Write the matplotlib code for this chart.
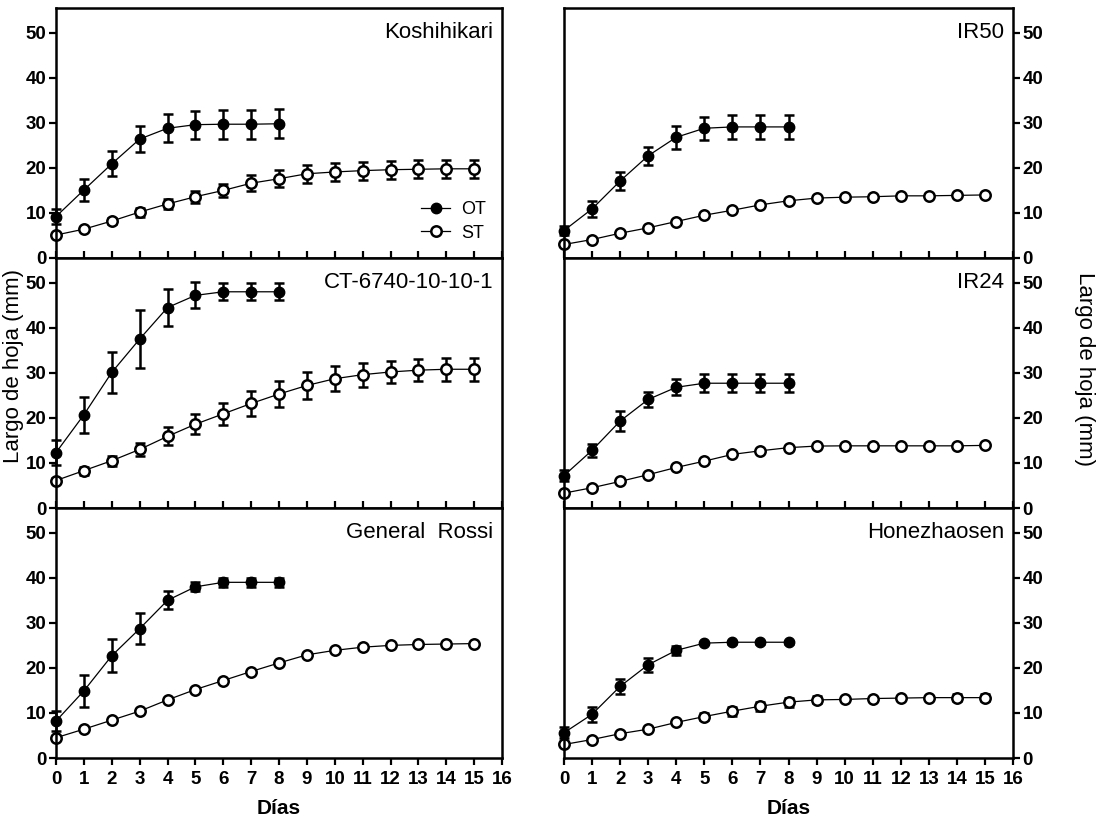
import numpy as np
import matplotlib
matplotlib.use('Agg')
import matplotlib.pyplot as plt
from matplotlib.lines import Line2D

plt.rcParams['font.family'] = ['Liberation Sans', 'DejaVu Sans']

dias_ot = [0, 1, 2, 3, 4, 5, 6, 7, 8]
dias_st = [0, 1, 2, 3, 4, 5, 6, 7, 8, 9, 10, 11, 12, 13, 14, 15]

# Koshihikari
kos_ot = [9.2, 15.1, 20.9, 26.4, 28.8, 29.6, 29.7, 29.7, 29.8]
kos_ot_err = [1.7, 2.4, 2.8, 2.9, 3.1, 3.1, 3.2, 3.2, 3.2]
kos_st = [5.1, 6.4, 8.2, 10.2, 12.0, 13.6, 15.0, 16.6, 17.6, 18.7, 19.1, 19.4, 19.6, 19.7, 19.8, 19.8]
kos_st_err = [0.5, 0.5, 0.6, 1.0, 1.2, 1.3, 1.5, 1.8, 1.9, 2.0, 2.0, 2.0, 2.0, 2.0, 2.0, 2.0]

# IR50
ir50_ot = [6.1, 10.9, 17.1, 22.7, 26.8, 28.8, 29.1, 29.1, 29.1]
ir50_ot_err = [1.0, 1.7, 2.0, 2.0, 2.5, 2.6, 2.6, 2.6, 2.6]
ir50_st = [3.0, 4.1, 5.5, 6.7, 8.1, 9.5, 10.6, 11.8, 12.7, 13.3, 13.5, 13.6, 13.8, 13.8, 13.9, 14.0]
ir50_st_err = [0.3] * 16

# CT-6740-10-10-1
ct_ot = [12.3, 20.7, 30.1, 37.5, 44.5, 47.2, 48.0, 48.0, 48.0]
ct_ot_err = [2.8, 4.0, 4.6, 6.4, 4.2, 2.9, 1.9, 1.9, 1.9]
ct_st = [6.1, 8.3, 10.5, 13.0, 15.9, 18.6, 20.9, 23.2, 25.3, 27.2, 28.7, 29.6, 30.2, 30.6, 30.8, 30.8]
ct_st_err = [0.5, 0.9, 1.1, 1.5, 2.0, 2.2, 2.4, 2.8, 2.9, 2.9, 2.8, 2.7, 2.5, 2.5, 2.5, 2.5]

# IR24
ir24_ot = [7.2, 12.8, 19.3, 24.1, 26.8, 27.7, 27.7, 27.7, 27.7]
ir24_ot_err = [1.2, 1.5, 2.3, 1.6, 1.8, 2.0, 2.0, 2.0, 2.0]
ir24_st = [3.3, 4.5, 5.9, 7.4, 9.0, 10.4, 11.9, 12.7, 13.4, 13.75, 13.8, 13.8, 13.8, 13.8, 13.8, 13.9]
ir24_st_err = [0.3] * 16

# General Rossi
gr_ot = [8.2, 14.9, 22.7, 28.7, 35.0, 38.0, 39.0, 39.0, 39.0]
gr_ot_err = [2.3, 3.6, 3.7, 3.4, 2.0, 1.0, 1.0, 1.0, 1.0]
gr_st = [4.5, 6.4, 8.4, 10.4, 12.9, 15.2, 17.2, 19.2, 21.1, 22.9, 23.9, 24.6, 25.0, 25.2, 25.3, 25.4]
gr_st_err = [0.3] * 16

# Honezhaosen
hon_ot = [5.6, 9.7, 15.9, 20.7, 23.9, 25.5, 25.7, 25.7, 25.7]
hon_ot_err = [1.2, 1.6, 1.7, 1.5, 1.0, 0.3, 0.3, 0.3, 0.3]
hon_st = [3.0, 4.1, 5.4, 6.4, 7.9, 9.2, 10.4, 11.5, 12.4, 12.9, 13.0, 13.2, 13.3, 13.4, 13.4, 13.4]
hon_st_err = [0.3, 0.3, 0.3, 0.3, 0.4, 0.8, 1.0, 1.0, 1.0, 0.8, 0.3, 0.3, 0.3, 0.3, 0.8, 0.8]

paneles = [
    ('Koshihikari', kos_ot, kos_ot_err, kos_st, kos_st_err),
    ('IR50', ir50_ot, ir50_ot_err, ir50_st, ir50_st_err),
    ('CT-6740-10-10-1', ct_ot, ct_ot_err, ct_st, ct_st_err),
    ('IR24', ir24_ot, ir24_ot_err, ir24_st, ir24_st_err),
    ('General  Rossi', gr_ot, gr_ot_err, gr_st, gr_st_err),
    ('Honezhaosen', hon_ot, hon_ot_err, hon_st, hon_st_err),
]

fig = plt.figure(figsize=(10.99, 8.22), dpi=100)

lefts = [56 / 1099, 564 / 1099]
widths = [446 / 1099, 449 / 1099]
h = 250 / 822
bottoms = [1 - 258 / 822, 1 - 508 / 822, 1 - 758 / 822]

for i, (nombre, ot, ot_err, st, st_err) in enumerate(paneles):
    fila = i // 2
    col = i % 2
    ax = fig.add_axes([lefts[col], bottoms[fila], widths[col], h])

    ax.errorbar(dias_st, st, yerr=st_err, color='black', lw=0.9,
                marker='o', ms=7.5, mfc='white', mec='black', mew=1.8,
                ecolor='black', elinewidth=1.8, capsize=3.5, capthick=1.8,
                zorder=2, clip_on=False)
    ax.errorbar(dias_ot, ot, yerr=ot_err, color='black', lw=0.9,
                marker='o', ms=7.5, mfc='black', mec='black',
                ecolor='black', elinewidth=1.8, capsize=3.5, capthick=1.8,
                zorder=3, clip_on=False)

    ax.set_xlim(0, 16)
    ax.set_ylim(0, 55.5)
    ax.set_xticks(range(0, 17))
    ax.set_yticks(range(0, 51, 10))

    for s in ax.spines.values():
        s.set_linewidth(1.8)

    if fila == 2:
        ax.tick_params(axis='x', direction='out', length=5, width=1.6, labelsize=13.5, pad=4)
        for t in ax.get_xticklabels():
            t.set_fontweight('bold')
    else:
        ax.tick_params(axis='x', direction='in', length=5, width=1.6, labelbottom=False)

    if col == 1:
        ax.yaxis.tick_right()
    ax.tick_params(axis='y', direction='out', length=5, width=1.6, labelsize=13.5, pad=2)
    for t in ax.get_yticklabels():
        t.set_fontweight('bold')

    ax.text(0.98, 0.9, nombre, transform=ax.transAxes, ha='right', va='center', fontsize=16)

    if i == 0:
        handles = [
            Line2D([], [], color='black', lw=0.9, marker='o', ms=7.5, mfc='black', mec='black'),
            Line2D([], [], color='black', lw=0.9, marker='o', ms=7.5, mfc='white', mec='black', mew=1.8),
        ]
        ax.legend(handles, ['OT', 'ST'], loc='lower right', frameon=False,
                  fontsize=13, handlelength=1.6, handletextpad=0.6, labelspacing=0.35,
                  bbox_to_anchor=(1.0, 0.0))

    if fila == 2:
        fig.text(lefts[col] + widths[col] / 2, 1 - 808 / 822, 'Días',
                 ha='center', va='center', fontsize=15, fontweight='bold')

fig.text(0.0125, 0.555, 'Largo de hoja (mm)', rotation=90, ha='center', va='center', fontsize=16)
fig.text(0.987, 0.551, 'Largo de hoja (mm)', rotation=-90, ha='center', va='center', fontsize=16)

plt.savefig('out.png', dpi=100)
